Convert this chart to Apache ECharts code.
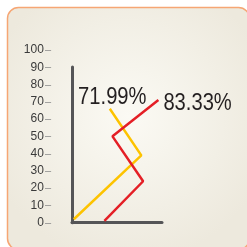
<!DOCTYPE html>
<html>
<head>
<meta charset="utf-8">
<script src="https://cdn.jsdelivr.net/npm/echarts@6/dist/echarts.min.js"></script>
<style>
  html, body { margin: 0; padding: 0; background: #fff; }
  #chart { width: 247px; height: 247px; }
</style>
</head>
<body>
<div id="chart"></div>
<script>
// values
const yTicks = [0, 10, 20, 30, 40, 50, 60, 70, 80, 90, 100]
const yellowX = [2, 77, 42]
const yellowY = [2, 39, 66]
const redX = [36, 79, 45, 96]
const redY = [1, 24, 50, 71]
const endLabels = ['71.99%', '83.33%']

const chart = echarts.init(document.getElementById('chart'))

const toPoints = (xs, ys) => xs.map((x, i) => [x, ys[i]])
const yellowPts = toPoints(yellowX, yellowY)
const redPts = toPoints(redX, redY)

const cardBg = {
  type: 'rect',
  z: -10,
  shape: { x: 7.5, y: 7.5, width: 242, height: 242, r: 11 },
  style: {
    fill: new echarts.graphic.RadialGradient(0.5, 0.45, 0.6, [
      { offset: 0, color: '#fbfaf4' },
      { offset: 1, color: '#ede9dd' }
    ]),
    stroke: '#f6a674',
    lineWidth: 1.5
  }
}

const option = {
  animation: false,
  graphic: [cardBg],
  grid: [
    { left: 72, top: 50, width: 90, bottom: 24.3 },
    { left: 72, top: 67, width: 90, bottom: 24.3 }
  ],
  xAxis: [
    { gridIndex: 0, type: 'value', min: 0, max: 100, show: false },
    {
      gridIndex: 1, type: 'value', min: 0, max: 1,
      axisLine: { show: true, lineStyle: { color: '#555557', width: 3 } },
      axisTick: { show: false }, axisLabel: { show: false }, splitLine: { show: false }
    }
  ],
  yAxis: [
    {
      gridIndex: 0, type: 'value', min: yTicks[0], max: yTicks[yTicks.length - 1], interval: 10,
      offset: 21,
      axisLine: { show: false },
      axisTick: { show: false },
      axisLabel: {
        color: '#3a3a3a', fontSize: 12, margin: 0, fontFamily: '"Liberation Sans", sans-serif',
        formatter: v => v + '{t|–}',
        rich: { t: { color: '#8a8a8a', fontSize: 11, padding: [0, 0, 0, 1] } }
      },
      splitLine: { show: false }
    },
    {
      gridIndex: 1, type: 'value', min: 0, max: 1,
      axisLine: { show: true, lineStyle: { color: '#555557', width: 3 } },
      axisTick: { show: false }, axisLabel: { show: false }, splitLine: { show: false }
    }
  ],
  series: [
    {
      type: 'line',
      xAxisIndex: 0, yAxisIndex: 0,
      showSymbol: false,
      lineStyle: { color: '#fdc300', width: 2.5 },
      data: yellowPts
    },
    {
      type: 'line',
      xAxisIndex: 0, yAxisIndex: 0,
      showSymbol: false,
      lineStyle: { color: '#e41f26', width: 2.5 },
      data: redPts
    }
  ]
}

chart.setOption(option)

// big percentage labels, condensed like the original, placed next to each line's last point
const endText = (pt, text, dx, dy, align) => {
  const [px, py] = chart.convertToPixel({ gridIndex: 0 }, pt)
  return {
    type: 'text',
    x: px + dx,
    y: py + dy,
    scaleX: 0.84,
    style: {
      text: text,
      fill: '#231f20',
      fontSize: 24,
      fontFamily: '"Liberation Sans", sans-serif',
      align: align,
      verticalAlign: 'middle'
    }
  }
}

chart.setOption({
  graphic: [
    cardBg,
    endText(yellowPts[yellowPts.length - 1], endLabels[0], 2.5, -11, 'center'),
    endText(redPts[redPts.length - 1], endLabels[1], 5, 3, 'left')
  ]
})
</script>
</body>
</html>
